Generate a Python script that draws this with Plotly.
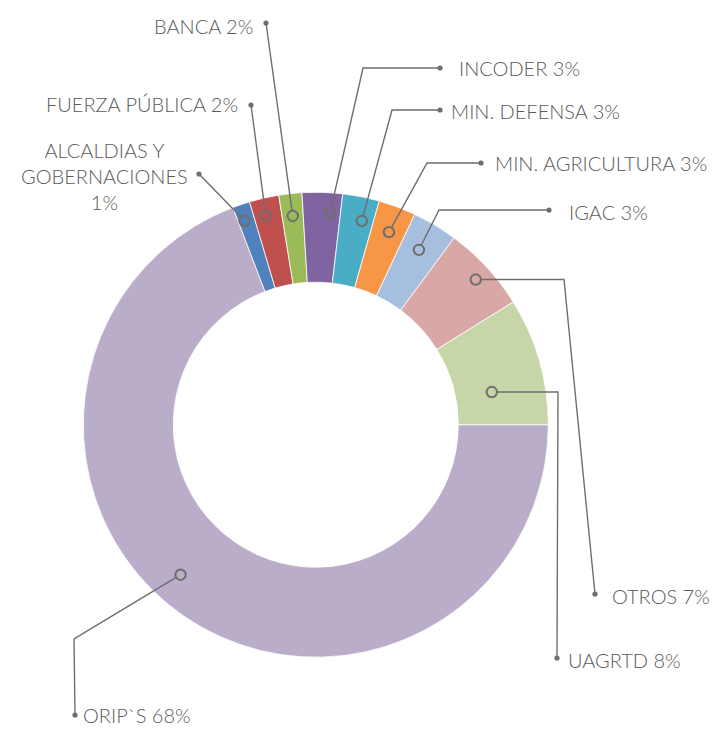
import math
import plotly.graph_objects as go

# ---- data ----
categories = ["ORIP`S", "ALCALDIAS Y<br>GOBERNACIONES<br>", "FUERZA PÚBLICA", "BANCA", "INCODER",
              "MIN. DEFENSA", "MIN. AGRICULTURA", "IGAC", "OTROS", "UAGRTD"]
values = [69.2, 1.2, 2.05, 1.6, 2.8, 2.55, 2.6, 3.15, 6.0, 8.85]
pct_labels = ["68%", "1%", "2%", "2%", "3%", "3%", "3%", "3%", "7%", "8%"]
colors = ["#B9ADC9", "#4F81BD", "#C0504D", "#9BBB59", "#8064A2",
          "#4BACC6", "#F79646", "#A7BFDE", "#D9A7A6", "#C6D6A8"]

# ---- layout / style ----
W, H = 718, 735          # browser window
OFF = 8                  # default page body margin
FW, FH = W - 2 * OFF, H - 2 * OFF
CX, CY, R = 315.8, 424.7, 232.5
HOLE = 0.613
LINE = "#6E6E6E"
TXT = "#5A5A5A"

# leader styling per slice: position inside slice (fraction, radius px),
# intermediate elbow points, end dot, label position / anchor (window pixels)
leaders = [
    dict(frac=0.53, rad=202, path=[(74, 639)], end=(75, 715), lab=(81, 715), xa="left", align="left"),
    dict(frac=0.37, rad=216, path=[], end=(199, 174), lab=(104, 176), xa="center", align="center"),
    dict(frac=0.42, rad=215, path=[], end=(251, 105), lab=(240, 104), xa="right", align="right"),
    dict(frac=0.50, rad=210, path=[], end=(266, 23), lab=(255, 26), xa="right", align="right"),
    dict(frac=0.72, rad=212, path=[(363, 68)], end=(440, 68), lab=(457, 68), xa="left", align="left"),
    dict(frac=0.66, rad=209, path=[(392, 110)], end=(440, 110), lab=(449, 111), xa="left", align="left"),
    dict(frac=0.53, rad=206, path=[(427, 163)], end=(481, 163), lab=(493, 163), xa="left", align="left"),
    dict(frac=0.47, rad=203, path=[(439, 210)], end=(549, 210), lab=(567, 212), xa="left", align="left"),
    dict(frac=0.52, rad=216, path=["h564"], end=(595, 594), lab=(610, 596), xa="left", align="left"),
    dict(frac=0.67, rad=179, path=["h558"], end=(557, 658), lab=(566, 660), xa="left", align="left"),
]


def px(x):
    return (x - OFF) / FW


def py(y):
    return 1 - (y - OFF) / FH


fig = go.Figure()
fig.add_trace(go.Pie(
    labels=categories, values=values, sort=False, direction="clockwise", rotation=90,
    hole=HOLE, marker=dict(colors=colors, line=dict(color="white", width=0.8)),
    textinfo="none", hoverinfo="label+percent", showlegend=False,
    domain=dict(x=[px(CX - R), px(CX + R)], y=[py(CY + R), py(CY - R)]),
))

shapes, annotations = [], []
total = sum(values)
cum = 90.0
for cat, v, pct, ld in zip(categories, values, pct_labels, leaders):
    a0 = cum
    a1 = cum + v / total * 360.0
    cum = a1
    th = math.radians(a0 + ld["frac"] * (a1 - a0))
    ax = CX + ld["rad"] * math.sin(th)
    ay = CY - ld["rad"] * math.cos(th)
    pts = [(ax, ay)]
    for p in ld["path"]:
        if isinstance(p, str):
            pts.append((float(p[1:]), ay))
        else:
            pts.append(p)
    pts.append(ld["end"])
    cr = 5.2
    dx, dy = pts[1][0] - ax, pts[1][1] - ay
    dl = math.hypot(dx, dy)
    pts[0] = (ax + dx / dl * cr, ay + dy / dl * cr)
    path = "M " + " L ".join(f"{px(x):.5f},{py(y):.5f}" for x, y in pts)
    shapes.append(dict(type="path", path=path, xref="paper", yref="paper",
                       line=dict(color=LINE, width=1.4), layer="above"))
    shapes.append(dict(type="circle", xref="paper", yref="paper",
                       x0=px(ax - cr), x1=px(ax + cr), y0=py(ay + cr), y1=py(ay - cr),
                       line=dict(color=LINE, width=2), fillcolor="rgba(0,0,0,0)", layer="above"))
    ex, ey = ld["end"]
    dr = 2.6
    shapes.append(dict(type="circle", xref="paper", yref="paper",
                       x0=px(ex - dr), x1=px(ex + dr), y0=py(ey + dr), y1=py(ey - dr),
                       line=dict(color=LINE, width=0), fillcolor=LINE, layer="above"))
    sep = "" if cat.endswith("<br>") else " "
    annotations.append(dict(
        text=f"{cat}{sep}{pct}", x=px(ld["lab"][0]), y=py(ld["lab"][1]),
        xref="paper", yref="paper", xanchor=ld["xa"], yanchor="middle", align=ld["align"],
        showarrow=False, font=dict(family="Lato", size=20, color=TXT, weight=300),
    ))

fig.update_layout(
    width=FW, height=FH, margin=dict(l=0, r=0, t=0, b=0),
    paper_bgcolor="white", plot_bgcolor="white",
    shapes=shapes, annotations=annotations,
)
fig.write_html("out.html")
